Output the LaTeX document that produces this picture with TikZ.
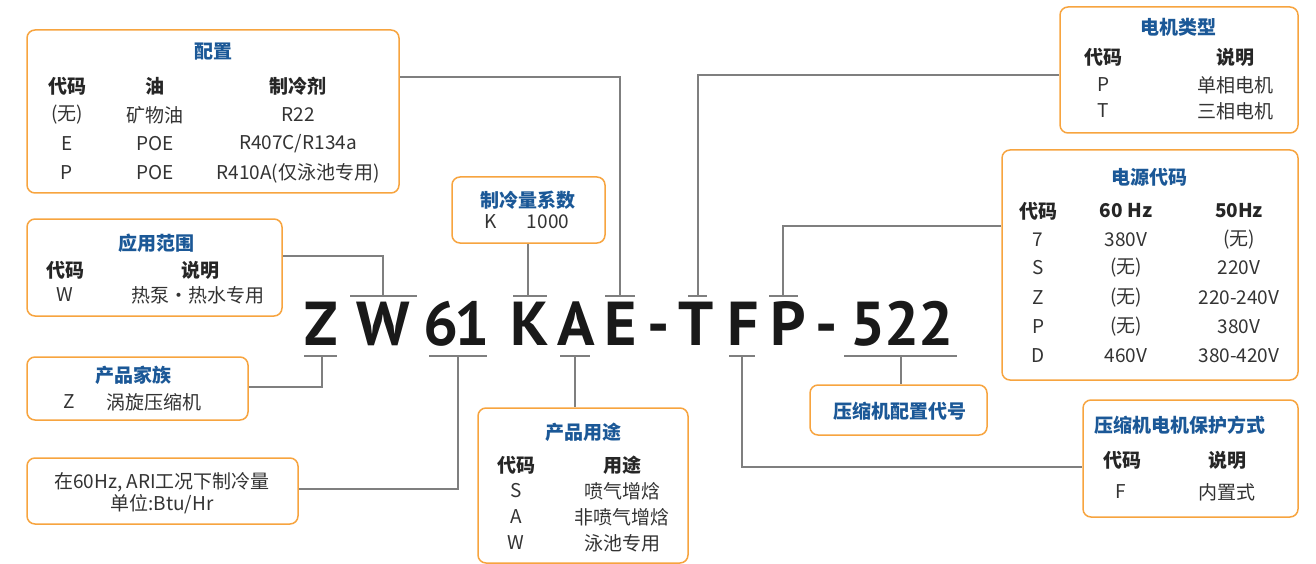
\documentclass[tikz,border=0pt]{standalone}
\usepackage{fontspec}
\setmainfont{Noto Sans CJK SC}
\newfontfamily\codefont{PT Sans}
\definecolor{boxorange}{HTML}{F7A43F}
\definecolor{titleblue}{HTML}{1B5897}
\definecolor{txtgray}{HTML}{333333}
\definecolor{linegray}{HTML}{7F7F7F}
\tikzset{
  infobox/.style={draw=boxorange, line width=1.5pt, rounded corners=8pt, fill=white},
  boxtitle/.style={font=\fontsize{19}{21}\selectfont\bfseries, text=titleblue, inner sep=0pt},
  colhead/.style={font=\fontsize{19}{21}\selectfont\bfseries, text=black!85, inner sep=0pt},
  cell/.style={font=\fontsize{19}{21}\selectfont, text=txtgray, inner sep=0pt},
  codechar/.style={font=\codefont\bfseries\fontsize{62}{62}\selectfont, text=black!90, anchor=base, inner sep=0pt},
  conn/.style={draw=linegray, line width=1.3pt},
}

\begin{document}
\begin{tikzpicture}[x=1pt,y=-1pt]
				\useasboundingbox (0,0) rectangle (1316,564);

				% boxes
				\node[infobox, minimum width=372pt, minimum height=163pt] (peizhi) at (213,111.5) {};
				\node[infobox, minimum width=255pt, minimum height=97pt] (yingyong) at (154.5,267.5) {};
				\node[infobox, minimum width=221pt, minimum height=63pt] (jiazu) at (137.5,388.5) {};
				\node[infobox, minimum width=271pt, minimum height=66pt] (lengliang) at (162.5,491) {};
				\node[infobox, minimum width=153pt, minimum height=66pt] (xishu) at (528.5,210) {};
				\node[infobox, minimum width=210pt, minimum height=155pt] (yongtu) at (583,485.5) {};
				\node[infobox, minimum width=238pt, minimum height=126pt] (dianji) at (1179,70) {};
				\node[infobox, minimum width=296pt, minimum height=230pt] (dianyuan) at (1150,265) {};
				\node[infobox, minimum width=177pt, minimum height=50pt] (peizhidh) at (898.5,410) {};
				\node[infobox, minimum width=215pt, minimum height=117pt] (baohu) at (1190.5,458.5) {};

				% 配置
				\node[boxtitle] (peizhiT) at (213,52) {配置};
				\node[colhead] at (67,86) {代码};
				\node[colhead] at (155,86) {油};
				\node[colhead] at (298,86) {制冷剂};
				\node[cell] at (67,115) {(无)};
				\node[cell] at (155,115) {矿物油};
				\node[cell] at (298,115) {R22};
				\node[cell] at (67,144) {E};
				\node[cell] at (155,144) {POE};
				\node[cell] at (298,144) {R407C/R134a};
				\node[cell] at (67,173) {P};
				\node[cell] at (155,173) {POE};
				\node[cell] at (298,173) {R410A(仅泳池专用)};

				% 应用范围
				\node[boxtitle] (yingyongT) at (156,243) {应用范围};
				\node[colhead] at (65,270) {代码};
				\node[colhead] at (200,270) {说明};
				\node[cell] at (65,295) {W};
				\node[cell] at (198,295) {热泵・热水专用};

				% 产品家族
				\node[boxtitle] (jiazuT) at (133,375) {产品家族};
				\node[cell] at (69,402) {Z};
				\node[cell] at (154,402) {涡旋压缩机};

				% 制冷量
				\node[cell] (lengliangA) at (162,482) {在60Hz, ARI工况下制冷量};
				\node[cell] (lengliangB) at (162,504) {单位:Btu/Hr};

				% 制冷量系数
				\node[boxtitle] (xishuT) at (528,200) {制冷量系数};
				\node[cell] at (491,222) {K};
				\node[cell] at (548,222) {1000};

				% 产品用途
				\node[boxtitle] (yongtuT) at (583,432) {产品用途};
				\node[colhead] at (516,465) {代码};
				\node[colhead] at (622,465) {用途};
				\node[cell] at (516,491) {S};
				\node[cell] at (622,491) {喷气增焓};
				\node[cell] at (516,517) {A};
				\node[cell] at (622,517) {非喷气增焓};
				\node[cell] at (516,543) {W};
				\node[cell] at (622,543) {泳池专用};

				% 电机类型
				\node[boxtitle] (dianjiT) at (1178,27) {电机类型};
				\node[colhead] at (1103,57) {代码};
				\node[colhead] at (1235,57) {说明};
				\node[cell] at (1103,85) {P};
				\node[cell] at (1235,85) {单相电机};
				\node[cell] at (1103,111) {T};
				\node[cell] at (1235,111) {三相电机};

				% 电源代码
				\node[boxtitle] (dianyuanT) at (1149,177) {电源代码};
				\node[colhead] at (1038,211) {代码};
				\node[colhead] at (1126,211) {60 Hz};
				\node[colhead] at (1239,211) {50Hz};
				\node[cell] at (1038,240) {7};
				\node[cell] at (1126,240) {380V};
				\node[cell] at (1239,240) {(无)};
				\node[cell] at (1038,268) {S};
				\node[cell] at (1126,268) {(无)};
				\node[cell] at (1239,268) {220V};
				\node[cell] at (1038,298) {Z};
				\node[cell] at (1126,298) {(无)};
				\node[cell] at (1239,298) {220-240V};
				\node[cell] at (1038,327) {P};
				\node[cell] at (1126,327) {(无)};
				\node[cell] at (1239,327) {380V};
				\node[cell] at (1038,356) {D};
				\node[cell] at (1126,356) {460V};
				\node[cell] at (1239,356) {380-420V};

				% 压缩机配置代号
				\node[boxtitle] (peizhidhT) at (900,411) {压缩机配置代号};

				% 压缩机电机保护方式
				\node[boxtitle] (baohuT) at (1180,425) {压缩机电机保护方式};
				\node[colhead] at (1122,460) {代码};
				\node[colhead] at (1227,460) {说明};
				\node[cell] at (1121,492) {F};
				\node[cell] at (1227,492) {内置式};

				% model code
				\foreach \ch/\px in {Z/321, W/383, 6/441, 1/472, K/530, A/576, E/621, -/659, T/696, F/743, P/788, -/827, 5/868, 2/902, 2/936}
					\node[codechar] (c\px) at (\px,345) {\ch};

				% bars over and under the code
				\draw[conn] (350,296) -- (417,296);
				\draw[conn] (513,296) -- (547,296);
				\draw[conn] (605,296) -- (635,296);
				\draw[conn] (688,296) -- (707,296);
				\draw[conn] (769,296) -- (798,296);
				\draw[conn] (304,356) -- (337,356);
				\draw[conn] (429,356) -- (487,356);
				\draw[conn] (560,356) -- (590,356);
				\draw[conn] (729,356) -- (755,356);
				\draw[conn] (844,356) -- (957,356);
				\coordinate (tW) at (383,296);
				\coordinate (tK) at (528,296);
				\coordinate (tE) at (620,296);
				\coordinate (tT) at (698,296);
				\coordinate (tP) at (783,296);
				\coordinate (bZ) at (322,356);
				\coordinate (b61) at (458,356);
				\coordinate (bA) at (575,356);
				\coordinate (bF) at (742,356);
				\coordinate (b522) at (901,356);

				% connectors
				\draw[conn] (tW) |- (yingyong.east |- 0,256);
				\draw[conn] (tK) -- (tK |- xishu.south);
				\draw[conn] (tE) |- (peizhi.east |- 0,77);
				\draw[conn] (tT) |- (dianji.west |- 0,75);
				\draw[conn] (tP) |- (dianyuan.west |- 0,226);
				\draw[conn] (bZ) |- (jiazu.east |- 0,387);
				\draw[conn] (b61) |- (lengliang.east |- 0,489);
				\draw[conn] (bA) -- (bA |- yongtu.north);
				\draw[conn] (bF) |- (baohu.west |- 0,467);
				\draw[conn] (b522) -- (b522 |- peizhidh.north);
			\end{tikzpicture}
\end{document}
